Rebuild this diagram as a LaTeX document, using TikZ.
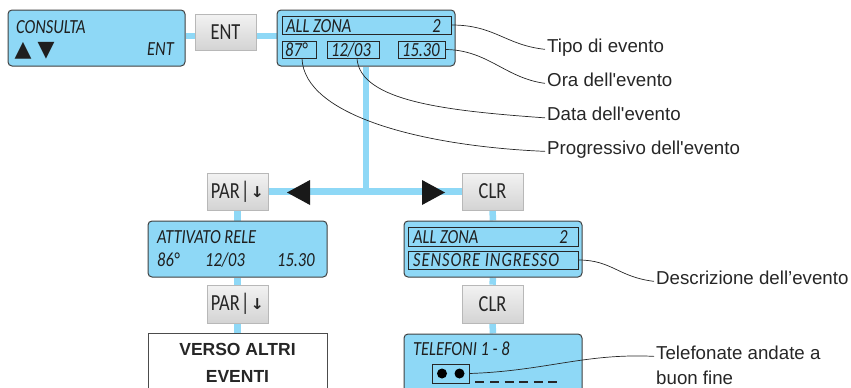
\documentclass[tikz,border=0pt]{standalone}
\usepackage{graphicx}
\usepackage{fontspec}
\setmainfont{Liberation Sans}
\newfontfamily\labfont{Liberation Sans}
\newfontfamily\lcdfont{Carlito}
\newfontfamily\keyfont{Carlito}
\newfontfamily\symfont{DejaVu Sans}
\usetikzlibrary{backgrounds}
\definecolor{lcdblue}{RGB}{142,216,246}
\definecolor{linkblue}{RGB}{142,216,246}
\newcommand{\lcdtxt}[1]{{\lcdfont\itshape\fontsize{20}{20}\selectfont\scalebox{0.82}[1]{#1}}}
\newcommand{\keytxt}[1]{{\keyfont\fontsize{23}{23}\selectfont\scalebox{0.8}[1]{#1}}}
\newcommand{\parkey}{\keytxt{PAR}\hspace{1pt}{\keyfont\fontsize{24}{24}\selectfont\scalebox{0.8}[1]{|}}\hspace{1pt}{\symfont\bfseries\fontsize{20}{20}\selectfont\raisebox{1pt}{\scalebox{0.8}[0.75]{↓}}}}
\newcommand{\labelfont}{\labfont\fontsize{18.7}{22}\selectfont}
\begin{document}
\begin{tikzpicture}[x=1pt,y=-1pt,
  lcd/.style={draw=black!75,fill=lcdblue,rounded corners=4pt,line width=1pt,inner sep=0pt},
  field/.style={draw=black!85,line width=0.9pt,inner sep=0pt},
  key/.style={draw=black!28,top color=black!5,bottom color=black!17,line width=0.6pt,inner sep=0pt,minimum width=61pt,text=black!85},
  conn/.style={draw=linkblue,line width=6.5pt},
  lead/.style={draw=black!85,line width=0.7pt},
  lbl/.style={anchor=base west,inner sep=0pt,font=\labelfont,text=black!85},
  lt/.style={anchor=base west,inner sep=0pt,text=black!88},
  ]
\useasboundingbox (0,0) rectangle (851,388);
\clip (0,0) rectangle (851,388);

% top row
\node[lcd,minimum width=177pt,minimum height=56pt] (cons) at (96.5,38) {};
\node[lt] (tcons) at (16,33) {\lcdtxt{CONSULTA}};
\node[lt] (tarr) at (14.5,56) {\symfont\fontsize{22}{22}\selectfont ▲\hspace{6pt}▼};
\node[lt,anchor=base east] (tent) at (174,55) {\lcdtxt{ENT}};

\node[key,minimum height=36pt] (ent) at (225.5,32) {\keytxt{ENT}};

\node[lcd,minimum width=178pt,minimum height=56pt] (ev) at (366,38) {};
\node[field,minimum width=169pt,minimum height=18pt] (r1) at (366.5,25) {};
\node[field,minimum width=34pt,minimum height=17pt] (r2) at (299,49.5) {};
\node[field,minimum width=52pt,minimum height=17pt] (r3) at (353,49.5) {};
\node[field,minimum width=47pt,minimum height=17pt] (r4) at (421.5,49.5) {};
\node[lt] (tall) at (286,32) {\lcdtxt{ALL ZONA}};
\node[lt,anchor=base east] (ttwo) at (441,32) {\lcdtxt{2}};
\node[lt] (t87) at (285,56) {\lcdtxt{87°}};
\node[lt] (tdate) at (331,56) {\lcdtxt{12/03}};
\node[lt] (ttime) at (402,56) {\lcdtxt{15.30}};

% keys middle
\node[key,minimum height=37pt] (par1) at (237.5,191.5) {\parkey};
\node[key,minimum height=37pt] (clr1) at (492.5,191.5) {\keytxt{CLR}};

% second row displays
\node[lcd,minimum width=179pt,minimum height=56pt] (rel) at (237.5,249) {};
\node[lt] (trel) at (157,243) {\lcdtxt{ATTIVATO RELE}};
\node[lt] (t86) at (157,266) {\lcdtxt{86°}};
\node[lt] (tdate2) at (205,266) {\lcdtxt{12/03}};
\node[lt] (ttime2) at (277,266) {\lcdtxt{15.30}};

\node[lcd,minimum width=178pt,minimum height=56pt] (alz) at (493,249) {};
\node[field,minimum width=170pt,minimum height=19pt] (r5) at (493,236.5) {};
\node[field,minimum width=170pt,minimum height=18pt] (r6) at (493,260) {};
\node[lt] (tall2) at (413,243) {\lcdtxt{ALL ZONA}};
\node[lt,anchor=base east] (ttwo2) at (568,243) {\lcdtxt{2}};
\node[lt] (tsens) at (413,266) {\lcdtxt{\addfontfeature{LetterSpace=6}SENSORE INGRESSO}};

% keys lower
\node[key,minimum height=38pt] (par2) at (237.5,304) {\parkey};
\node[key,minimum height=38pt] (clr2) at (492.5,304) {\keytxt{CLR}};

% bottom boxes
\node[draw=black!70,fill=white,line width=1pt,minimum width=179pt,minimum height=70pt,inner sep=0pt] (verso) at (237.5,368) {};
\node[anchor=base,inner sep=0pt,font=\fontsize{17.5}{20}\selectfont\bfseries,text=black!85] (tv1) at (237.5,355) {VERSO ALTRI};
\node[anchor=base,inner sep=0pt,font=\fontsize{17.5}{20}\selectfont\bfseries,text=black!85] (tv2) at (237.5,382) {EVENTI};

\node[lcd,minimum width=178pt,minimum height=70pt] (tel) at (493,369) {};
\node[lt] (ttel) at (413,355) {\lcdtxt{TELEFONI 1 - 8}};
\node[field,minimum width=37pt,minimum height=19pt] (dots) at (450.5,373.5) {};
\fill[black] (442,373.5) circle (5);
\fill[black] (459.5,373.5) circle (5);
\draw[black!85,line width=2pt,dash pattern=on 9pt off 5.6pt] (dots.east |- 0,382) ++(6,0) -- ++(82,0);

% arrowheads
\fill[black!90] (310,180) -- (287,192.5) -- (310,205) -- cycle;
\fill[black!90] (422,180) -- (445,192.5) -- (422,205) -- cycle;

% blue connectors
\begin{scope}[on background layer]
\draw[conn] (cons.east |- 0,36) -- (ev.west |- 0,36);
\draw[conn] (ev.south) -- (ev.south |- par1.east);
\draw[conn] (par1.east) -- (clr1.west);
\draw[conn] (par1.south) -- (rel.north);
\draw[conn] (rel.south) -- (par2.north);
\draw[conn] (par2.south) -- (verso.north);
\draw[conn] (clr1.south) -- (alz.north);
\draw[conn] (alz.south) -- (clr2.north);
\draw[conn] (clr2.south) -- (tel.north);
\end{scope}

% labels
\node[lbl] (ltipo) at (547,52) {Tipo di evento};
\node[lbl] (lora) at (547,86) {Ora dell'evento};
\node[lbl] (ldata) at (547,120.5) {Data dell'evento};
\node[lbl] (lprog) at (547,154) {Progressivo dell'evento};
\node[lbl] (ldesc) at (656,284) {Descrizione dell’evento};
\node[lbl] (ltel1) at (656,359) {Telefonate andate a};
\node[lbl] (ltel2) at (656,384) {buon fine};

\draw[lead] (r1.east) .. controls (495,25) and (505,45) .. ([xshift=-2pt]ltipo.mid west);
\draw[lead] (r4.east) .. controls (488,50) and (505,78) .. ([xshift=-2pt]lora.mid west);
\draw[lead] ([xshift=4pt]r3.south) .. controls (360,102) and (450,111) .. ([xshift=-2pt]ldata.mid west);
\draw[lead] ([xshift=3pt]r2.south) .. controls (304,115) and (420,146) .. ([xshift=-2pt]lprog.mid west);
\draw[lead] (r6.east) .. controls (612,260) and (618,277) .. ([xshift=-2pt]ldesc.mid west);
\draw[lead] (dots.east) .. controls (545,371) and (585,353) .. ([xshift=-2pt]ltel1.mid west);
\end{tikzpicture}
\end{document}
